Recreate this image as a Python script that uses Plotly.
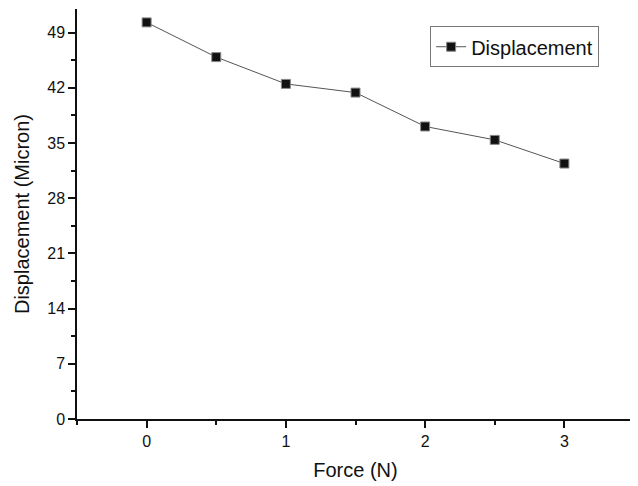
import plotly.graph_objects as go

force = [0, 0.5, 1, 1.5, 2, 2.5, 3]
displacement = [50.3, 45.9, 42.5, 41.4, 37.1, 35.4, 32.4]
x_ticks = [0, 1, 2, 3]
y_ticks = [0, 7, 14, 21, 28, 35, 42, 49]

FONT = "Liberation Sans, Arial, Helvetica, sans-serif"

# page body has an 8px default margin, so the figure is sized/offset to compensate
fig = go.Figure()
fig.add_trace(go.Scatter(
    x=force, y=displacement, mode="lines+markers", name="Displacement",
    line=dict(color="#555555", width=1),
    marker=dict(symbol="square", size=9, color="#111111",
                line=dict(color="#888888", width=1)),
))

fig.update_layout(
    width=630, height=478,
    paper_bgcolor="white", plot_bgcolor="white",
    margin=dict(l=69, r=4, t=1, b=67, autoexpand=False),
    font=dict(family=FONT, color="#111111"),
    showlegend=True,
    legend=dict(x=0.634, y=0.958, xanchor="left", yanchor="top",
                bordercolor="#777777", borderwidth=1, bgcolor="white",
                font=dict(size=20, family=FONT, color="#111111"),
                itemwidth=30, tracegroupgap=0),
    xaxis=dict(
        range=[-0.5, 3.5], tickvals=x_ticks, ticktext=[str(v) for v in x_ticks],
        automargin=False,
        showgrid=False, zeroline=False, showline=True, linecolor="#111111", linewidth=1.5,
        ticks="outside", ticklen=7, tickwidth=1.5, tickcolor="#111111",
        tickfont=dict(size=16, family=FONT, color="#111111"),
        minor=dict(tick0=0, dtick=0.5, ticks="outside", ticklen=4, tickwidth=1.5,
                   tickcolor="#111111", showgrid=False),
        title=dict(text="Force (N)", font=dict(size=20, family=FONT, color="#111111"), standoff=14),
    ),
    yaxis=dict(
        range=[0, 52], tickvals=y_ticks, ticktext=[str(v) for v in y_ticks],
        automargin=False,
        showgrid=False, zeroline=False, showline=True, linecolor="#111111", linewidth=1.5,
        ticks="outside", ticklen=7, tickwidth=1.5, tickcolor="#111111",
        tickfont=dict(size=16, family=FONT, color="#111111"),
        minor=dict(tick0=0, dtick=3.5, ticks="outside", ticklen=4, tickwidth=1.5,
                   tickcolor="#111111", showgrid=False),
        title=dict(text="Displacement (Micron)", font=dict(size=20, family=FONT, color="#111111"), standoff=12),
    ),
)

fig.write_html("out.html")
